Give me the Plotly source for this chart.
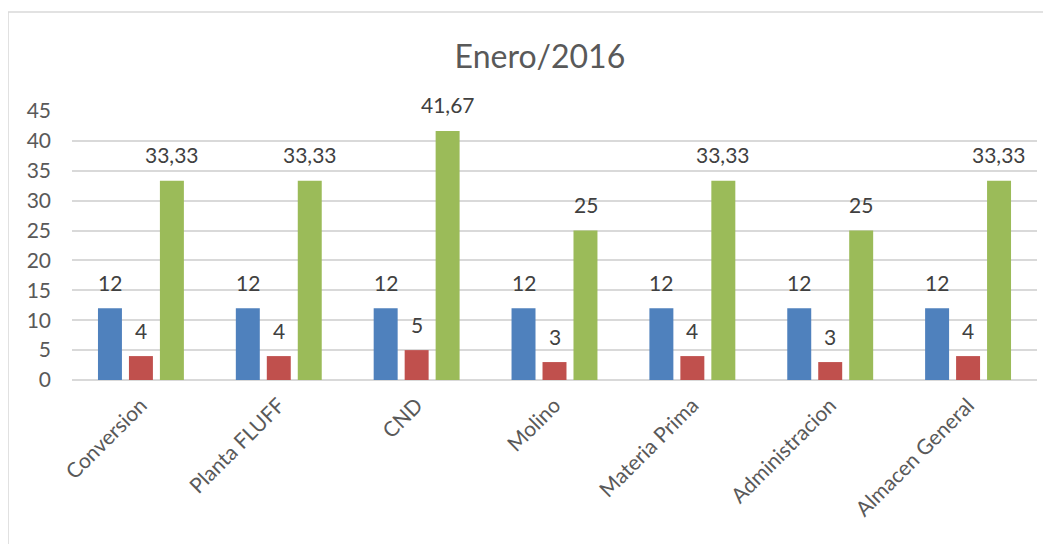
import plotly.graph_objects as go

# datos del gráfico
areas = ['Conversion', 'Planta FLUFF', 'CND', 'Molino',
         'Materia Prima', 'Administracion', 'Almacen General']
serie_1 = [12, 12, 12, 12, 12, 12, 12]
serie_2 = [4, 4, 5, 3, 4, 3, 4]
serie_3 = [33.33, 33.33, 41.67, 25, 33.33, 25, 33.33]
y_ticks = [0, 5, 10, 15, 20, 25, 30, 35, 40, 45]

colores = ['#4F81BD', '#C0504D', '#9BBB59']
fuente = 'Lato'
desplazamientos = [-31, 0, 31]  # px, centro de cada barra dentro del grupo

fig = go.Figure()
for nombre, valores, color, dx in zip(['Serie 1', 'Serie 2', 'Serie 3'],
                                      [serie_1, serie_2, serie_3],
                                      colores, desplazamientos):
    fig.add_trace(go.Bar(
        x=areas,
        y=valores,
        name=nombre,
        marker=dict(color=color, line=dict(width=0)),
        ))
    # etiquetas de datos estilo Excel
    for area, v in zip(areas, valores):
        fig.add_annotation(
            x=area, y=v,
            text=f'{v:g}'.replace('.', ','),
            showarrow=False,
            xshift=dx, yshift=26,
            yanchor='middle',
            font=dict(size=21, color='#404040', family=fuente),
            )

fig.update_layout(
    title=dict(
        text='Enero/2016',
        x=0.51,
        xanchor='center',
        y=1 - 49 / 536,
        yanchor='middle',
        font=dict(size=32, color='#595959', family=fuente),
        ),
    font=dict(family=fuente, color='#595959'),
    separators=',.',
    showlegend=False,
    barmode='group',
    bargap=0.326,
    bargroupgap=0.226,
    plot_bgcolor='white',
    paper_bgcolor='white',
    width=1043,
    height=536,
    margin=dict(l=64, r=14, t=103, b=164, autoexpand=False),
    shapes=[dict(
        type='rect',
        xref='paper', yref='paper',
        x0=-0.0663, x1=1.05, y0=-0.8, y1=1.368,
        line=dict(color='#D9D9D9', width=1.5),
        fillcolor='rgba(0,0,0,0)',
        layer='below',
        )],
    )
fig.update_xaxes(
    tickangle=-45,
    tickfont=dict(size=21, color='#595959'),
    showline=False,
    ticks='',
    ticklabelstandoff=8,
    automargin=False,
    )
fig.update_yaxes(
    range=[0, 45],
    tickvals=y_ticks,
    tickfont=dict(size=21, color='#595959'),
    showgrid=True,
    gridcolor='#D9D9D9',
    gridwidth=1.5,
    zeroline=True,
    zerolinecolor='#D9D9D9',
    zerolinewidth=1.5,
    ticks='',
    ticklabelstandoff=20,
    automargin=False,
    )

fig.write_html('out.html')
